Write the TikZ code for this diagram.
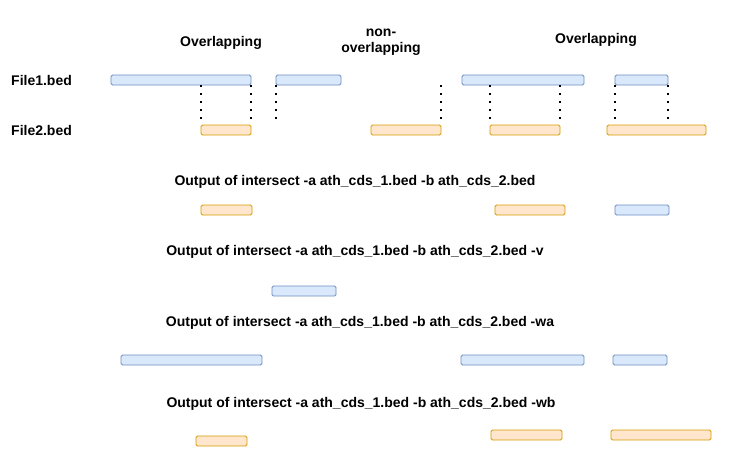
\documentclass[tikz,border=0pt]{standalone}
\usepackage{fontspec}
\setmainfont{Liberation Sans}
\definecolor{bedblue}{HTML}{DAE8FC}
\definecolor{bedblueline}{HTML}{6C8EBF}
\definecolor{bedorange}{HTML}{FFE6CC}
\definecolor{bedorangeline}{HTML}{D79B00}

\begin{document}
\begin{tikzpicture}[x=1pt, y=-1pt,
    lbl/.style={font=\fontsize{14}{16.5}\selectfont\bfseries, inner sep=0pt, text height=10pt, text depth=0pt},
    bedA/.style={draw=bedblueline, fill=bedblue, rounded corners=1.5pt, line width=0.9pt, minimum height=10pt, inner sep=0pt},
    bedB/.style={draw=bedorangeline, fill=bedorange, rounded corners=1.5pt, line width=0.9pt, minimum height=10pt, inner sep=0pt},
    guide/.style={line width=2pt, dash pattern=on 2pt off 6pt}]
    \useasboundingbox (0,0) rectangle (747,474);

    % labels on top
    \node[lbl] (ov1) at (221,41) {Overlapping};
    \node[font=\fontsize{14}{16.5}\selectfont\bfseries, align=center, inner sep=0pt] (nov) at (381,42) {non-\\overlapping};
    \node[lbl] (ov2) at (596,38) {Overlapping};
    \node[lbl, anchor=west] (f1) at (11,80) {File1.bed};
    \node[lbl, anchor=west] (f2) at (11,130) {File2.bed};

    % File1.bed
    \node[bedA, minimum width=140pt] (a1) at (181,80) {};
    \node[bedA, minimum width=65pt] (a2) at (308.5,80) {};
    \node[bedA, minimum width=122pt] (a3) at (523,80) {};
    \node[bedA, minimum width=53pt] (a4) at (641.5,80) {};

    % File2.bed
    \node[bedB, minimum width=50pt] (b1) at (226,130) {};
    \node[bedB, minimum width=70pt] (b2) at (406,130) {};
    \node[bedB, minimum width=70pt] (b3) at (525,130) {};
    \node[bedB, minimum width=99pt] (b4) at (656.5,130) {};

    % dotted guides
    \draw[guide] (a1.south -| b1.west) -- ([yshift=6pt]b1.north west);
    \draw[guide] (a1.south east) -- ([yshift=6pt]b1.north east);
    \draw[guide] (a2.south west) -- ([yshift=6pt]a2.west |- b1.north);
    \draw[guide] (b2.east |- a1.south) -- ([yshift=6pt]b2.north east);
    \draw[guide] (a3.south -| b3.west) -- ([yshift=6pt]b3.north west);
    \draw[guide] (a3.south -| b3.east) -- ([yshift=6pt]b3.north east);
    \draw[guide] (a4.south west) -- ([yshift=6pt]a4.west |- b4.north);
    \draw[guide] (a4.south east) -- ([yshift=6pt]a4.east |- b4.north);

    % intersect
    \node[lbl] (t1) at (355,180) {Output of intersect -a ath\_cds\_1.bed -b ath\_cds\_2.bed};
    \node[bedB, minimum width=51pt] (c1) at (226.5,210) {};
    \node[bedB, minimum width=70pt] (c2) at (530,210) {};
    \node[bedA, minimum width=54pt] (c3) at (642,210) {};

    % -v
    \node[lbl] (t2) at (355,250) {Output of intersect -a ath\_cds\_1.bed -b ath\_cds\_2.bed -v};
    \node[bedA, minimum width=64pt] (d1) at (304,291) {};

    % -wa
    \node[lbl] (t3) at (360,321) {Output of intersect -a ath\_cds\_1.bed -b ath\_cds\_2.bed -wa};
    \node[bedA, minimum width=141pt] (e1) at (191.5,360) {};
    \node[bedA, minimum width=123pt] (e2) at (522.5,360) {};
    \node[bedA, minimum width=54pt] (e3) at (640,360) {};

    % -wb
    \node[lbl] (t4) at (361,402) {Output of intersect -a ath\_cds\_1.bed -b ath\_cds\_2.bed -wb};
    \node[bedB, minimum width=51pt] (g1) at (221.5,441) {};
    \node[bedB, minimum width=71pt] (g2) at (526.5,435) {};
    \node[bedB, minimum width=100pt] (g3) at (661,435) {};
\end{tikzpicture}
\end{document}
